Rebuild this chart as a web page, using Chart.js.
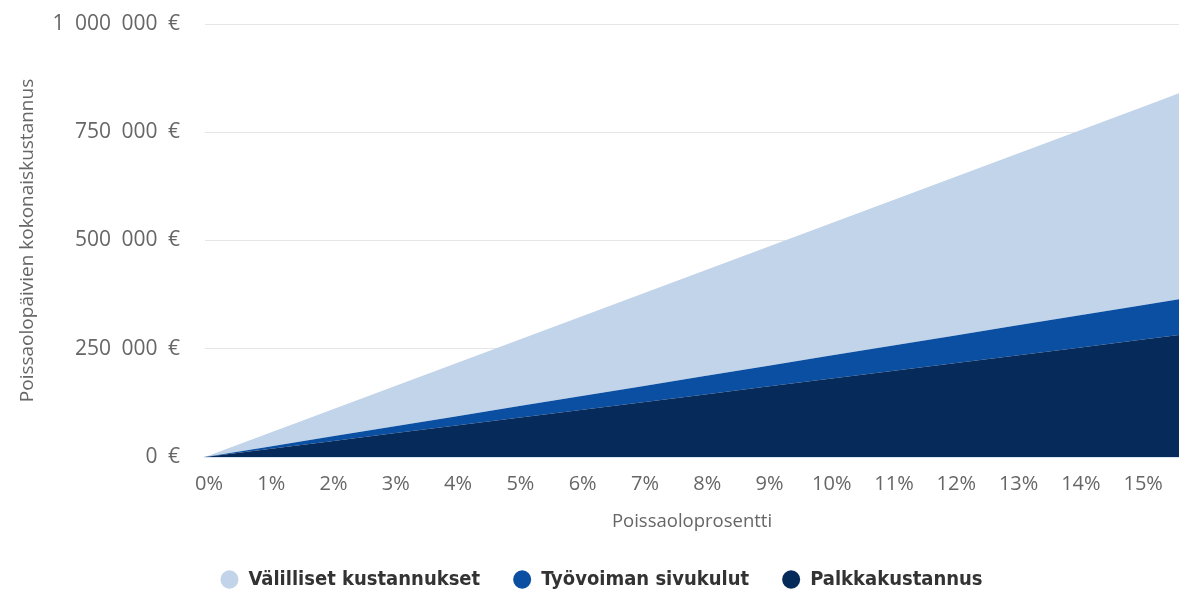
<!DOCTYPE html>
<html>
<head>
<meta charset="utf-8">
<script src="https://cdn.jsdelivr.net/npm/chart.js@4.4.0/dist/chart.umd.min.js"></script>
<style>
  html, body { margin: 0; padding: 0; background: #fff; }
  #wrap { width: 1179px; height: 591px; }
</style>
</head>
<body>
<div id="wrap"><canvas id="c"></canvas></div>
<script>
// Absence percentage (x) and cost components (€)
const percents    = [0, 1, 2, 3, 4, 5, 6, 7, 8, 9, 10, 11, 12, 13, 14, 15, 15.64];
const palkka      = [0, 18000, 36000, 54000, 72000, 90000, 108000, 126000, 144000, 162000, 180000, 198000, 216000, 234000, 252000, 270000, 281500];
const sivukulut   = [0, 5300, 10600, 15900, 21200, 26500, 31800, 37100, 42400, 47700, 53000, 58300, 63600, 68900, 74200, 79500, 83000];
const valilliset  = [0, 30400, 60800, 91200, 121600, 152000, 182400, 212800, 243200, 273600, 304000, 334400, 364800, 395200, 425600, 456000, 475500];
const seriesNames = ['Palkkakustannus', 'Työvoiman sivukulut', 'Välilliset kustannukset'];
const yTicks      = [0, 250000, 500000, 750000, 1000000];
const xTitle = 'Poissaoloprosentti';
const yTitle = 'Poissaolopäivien kokonaiskustannus';

const colors = ['#062a59', '#0a4fa2', '#c2d4e9'];
const toPts = arr => arr.map((v, i) => ({ x: percents[i], y: v }));

const fmtEur = v => {
  const s = Math.round(v).toString().replace(/\B(?=(\d{3})+(?!\d))/g, '\u2002');
  return s + '\u2002€';
};

const font = "'Open Sans', 'Noto Sans', sans-serif";
const legendFont = "'Liberation Sans Narrow', 'DejaVu Sans Condensed', 'Open Sans', sans-serif";

new Chart(document.getElementById('c'), {
  type: 'line',
  data: {
    datasets: [palkka, sivukulut, valilliset].map((arr, i) => ({
      label: seriesNames[i],
      data: toPts(arr),
      backgroundColor: colors[i],
      borderColor: colors[i],
      borderWidth: 0,
      pointRadius: 0,
      fill: i === 0 ? 'origin' : '-1',
      tension: 0
    }))
  },
  options: {
    responsive: true,
    maintainAspectRatio: false,
    animation: false,
    layout: { padding: { top: 24, right: 0, left: 24, bottom: -8.5 } },
    plugins: {
      tooltip: { enabled: false },
      legend: {
        position: 'bottom',
        reverse: true,
        labels: {
          usePointStyle: true,
          pointStyle: 'circle',
          boxHeight: 13,
          pointStyleWidth: 18,
          padding: 33,
          color: '#333',
          font: { family: legendFont, size: 20, weight: 'bold' }
        }
      }
    },
    scales: {
      x: {
        type: 'linear',
        min: 0,
        max: percents[percents.length - 1],
        afterFit: s => { s.height = 79.5; },
        grid: { display: false, drawTicks: false },
        border: { display: true, color: '#d9e3ef', width: 2 },
        ticks: {
          stepSize: 1,
          includeBounds: false,
          padding: 15,
          labelOffset: 4,
          color: '#666',
          font: { family: font, size: 20 },
          callback: v => v + '%'
        },
        title: {
          display: true,
          text: xTitle,
          color: '#666',
          font: { family: font, size: 18.5 },
          padding: { top: 0, bottom: 3.4 }
        }
      },
      y: {
        stacked: true,
        min: 0,
        max: 1000000,
        afterBuildTicks: s => { s.ticks = yTicks.map(v => ({ value: v })); },
        afterFit: s => { s.width = 181; },
        grid: { color: '#e6e6e6', drawTicks: true, tickLength: 22, tickColor: 'rgba(0,0,0,0)', lineWidth: 1 },
        border: { display: false },
        ticks: {
          padding: 3,
          color: '#666',
          font: { family: font, size: 21 },
          callback: v => fmtEur(v)
        },
        title: {
          display: true,
          text: yTitle,
          color: '#666',
          font: { family: font, size: 19 },
          padding: { top: -7.5, bottom: 0 }
        }
      }
    }
  }
});
</script>
</body>
</html>
